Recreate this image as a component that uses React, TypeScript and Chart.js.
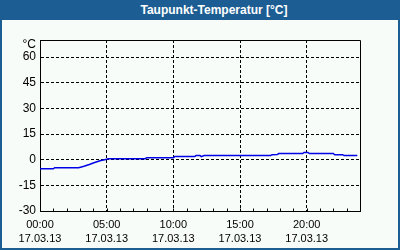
import React, { useEffect, useRef } from "react";
import { Chart, registerables } from "chart.js";

Chart.register(...registerables);

// ---- data ----
const chartTitle = "Taupunkt-Temperatur [°C]";
const hours = [0, 1.0, 1.1, 2.9, 3.3, 3.7, 4.1, 4.5, 5.0, 5.1, 7.9, 8.0, 10.0, 10.1, 11.6, 11.7, 12.0, 12.1, 12.3, 17.3, 17.4, 17.8, 17.9, 19.7, 19.8, 20.1, 20.2, 22.0, 22.1, 22.7, 22.8, 23.8];
const dewPoint = [-5.3, -5.3, -4.7, -4.7, -3.8, -2.8, -1.6, -0.6, 0.2, 0.6, 0.6, 1.2, 1.2, 1.8, 1.8, 2.4, 2.4, 1.8, 2.4, 2.4, 2.9, 3.0, 3.6, 3.6, 4.2, 4.2, 3.6, 3.6, 2.9, 2.9, 2.4, 2.4];
const xLabelHours = [0, 5, 10, 15, 20];
const timeLabels = ["00:00", "05:00", "10:00", "15:00", "20:00"];
const dateLabel = "17.03.13";
const yTickValues = [-30, -15, 0, 15, 30, 45, 60];
const unitLabel = "°C";
const unitLabelValue = 67;

const FONT = "'Liberation Sans', Arial, sans-serif";

export default function App() {
  const ref = useRef<HTMLCanvasElement | null>(null);

  useEffect(() => {
    document.body.style.margin = "0";
    const canvas = ref.current;
    if (!canvas) return;

    const framePlugin = {
      id: "frame",
      afterDraw(chart: any) {
        const { ctx, chartArea, scales } = chart;
        const x = scales.x;
        ctx.save();
        ctx.strokeStyle = "#000";
        ctx.lineWidth = 1;
        ctx.beginPath();
        const l = Math.round(chartArea.left) + 0.5;
        const r = Math.round(chartArea.right) + 0.5;
        const t = Math.round(chartArea.top) + 0.5;
        const b = Math.round(chartArea.bottom) + 0.5;
        ctx.moveTo(l, t);
        ctx.lineTo(r, t);
        ctx.lineTo(r, b);
        for (const tk of x.ticks) {
          const px = Math.round(x.getPixelForValue(tk.value)) + 0.5;
          ctx.moveTo(px, b);
          ctx.lineTo(px, b - 3);
        }
        ctx.stroke();
        ctx.restore();
      },
    };

    const chart = new Chart(canvas, {
      type: "line",
      data: {
        datasets: [
          {
            data: hours.map((h, i) => ({ x: h, y: dewPoint[i] })),
            borderColor: "#0000e6",
            borderWidth: 1.5,
            pointRadius: 0,
            tension: 0,
            fill: false,
          },
        ],
      },
      options: {
        animation: false,
        responsive: false,
        maintainAspectRatio: false,
        layout: { padding: { left: 0, right: 38, top: 20, bottom: 0 } },
        plugins: { legend: { display: false }, tooltip: { enabled: false }, title: { display: false } },
        scales: {
          x: {
            type: "linear",
            min: 0,
            max: 24,
            afterBuildTicks: (scale: any) => {
              const t = [];
              for (let h = 0; h <= 24; h++) t.push({ value: h });
              scale.ticks = t;
            },
            afterFit: (scale: any) => {
              scale.height = 37;
            },
            grid: {
              drawTicks: false,
              lineWidth: 1,
              color: (c: any) => {
                const v = c.tick ? c.tick.value : -1;
                return v > 0 && v < 24 && v % 5 === 0 ? "#000" : "rgba(0,0,0,0)";
              },
            },
            border: { display: true, color: "#000", width: 1, dash: [3, 2] },
            ticks: {
              autoSkip: false,
              maxRotation: 0,
              padding: 7,
              color: "#000",
              font: { family: FONT, size: 11, lineHeight: "14px" },
              callback: (v: any) => {
                const i = xLabelHours.indexOf(Number(v));
                return i >= 0 ? [timeLabels[i], dateLabel] : "";
              },
            },
          },
          y: {
            type: "linear",
            min: -30,
            max: 70,
            afterBuildTicks: (scale: any) => {
              scale.ticks = [...yTickValues, unitLabelValue].map((v) => ({ value: v }));
            },
            afterFit: (scale: any) => {
              scale.width = 38;
            },
            grid: {
              drawTicks: false,
              lineWidth: 1,
              color: (c: any) => {
                const v = c.tick ? c.tick.value : -30;
                return v === -30 || v === unitLabelValue ? "rgba(0,0,0,0)" : "#000";
              },
            },
            border: { display: true, color: "#000", width: 1, dash: [3, 2] },
            ticks: {
              autoSkip: false,
              padding: 4,
              color: "#000",
              font: { family: FONT, size: 12 },
              callback: (v: any) => (Number(v) === unitLabelValue ? unitLabel : String(v)),
            },
          },
        },
      },
      plugins: [framePlugin],
    } as any);

    return () => chart.destroy();
  }, []);

  return (
    <div style={{ position: "relative", width: 400, height: 250, background: "#1c5e94", overflow: "hidden" }}>
      <div
        style={{
          position: "absolute",
          left: 0,
          top: 0,
          width: 400,
          height: 20,
          lineHeight: "20px",
          color: "#fff",
          fontFamily: FONT,
          fontWeight: "bold",
          fontSize: 12,
          textAlign: "center",
          paddingLeft: 28,
          boxSizing: "border-box",
        }}
      >
        {chartTitle}
      </div>
      <div style={{ position: "absolute", left: 2, top: 20, width: 396, height: 228, background: "#f8fcf8" }}>
        <canvas ref={ref} width={396} height={228} style={{ display: "block" }} />
      </div>
    </div>
  );
}
